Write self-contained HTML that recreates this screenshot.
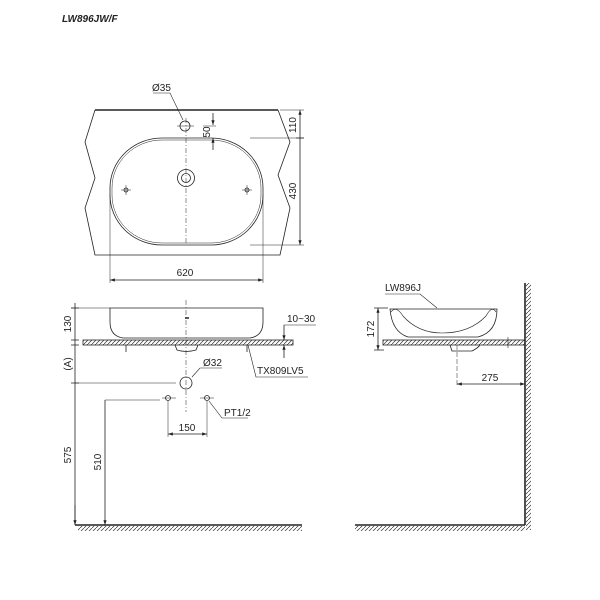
<!DOCTYPE html>
<html><head><style>body{margin:0;background:#fff}svg{display:block}text{font-family:"Liberation Sans",sans-serif;font-size:10px;fill:#222}</style></head><body>
<svg width="600" height="600" viewBox="0 0 600 600" xmlns="http://www.w3.org/2000/svg">
<defs>
<pattern id="h" width="4" height="4" patternUnits="userSpaceOnUse"><path d="M0,4 L4,0" stroke="#333" stroke-width="0.7"/></pattern>
<marker id="a" markerWidth="6" markerHeight="6" refX="6" refY="3" orient="auto-start-reverse"><path d="M0,1 L6,3 L0,5z" fill="#222"/></marker>
</defs>
<text x="62" y="22" style="font-weight:bold;font-style:italic;font-size:10px">LW896JW/F</text>
<g fill="none" stroke="#222" stroke-width="0.8">
<path d="M95,110 L85,142 L95,178 L85,208 L95,255 L280,255 L290,208 L278,175 L290,142 L278,110"/>
<line x1="95" y1="110" x2="278" y2="110" stroke-width="1.6"/>
<rect x="110" y="138" width="153" height="107" rx="52" ry="50"/>
<rect x="112" y="140" width="149" height="103" rx="50" ry="48" stroke-width="0.5"/>
<line x1="186" y1="118" x2="186" y2="245" stroke-dasharray="5,2,1,2" stroke-width="0.5"/>
<circle cx="186" cy="178" r="8.5"/><circle cx="186" cy="178" r="4.5"/>
<circle cx="185" cy="126" r="5"/><line x1="177" y1="126" x2="194" y2="126" stroke-width="0.5"/>
<circle cx="126" cy="190" r="2"/><path d="M121,190h10M126,185v10" stroke-width="0.5"/>
<circle cx="247" cy="190" r="2"/><path d="M242,190h10M247,185v10" stroke-width="0.5"/>
<path d="M153,93 L170,93 L183,120" stroke-width="0.6"/>
<line x1="213" y1="113" x2="213" y2="125" marker-end="url(#a)"/><line x1="213" y1="150" x2="213" y2="138" marker-end="url(#a)"/>
<line x1="203" y1="126" x2="216" y2="126" stroke-width="0.5"/>
<line x1="280" y1="110" x2="304" y2="110" stroke-width="0.5"/><line x1="250" y1="138" x2="304" y2="138" stroke-width="0.5"/><line x1="250" y1="245" x2="304" y2="245" stroke-width="0.5"/>
<line x1="300" y1="110" x2="300" y2="245" marker-start="url(#a)" marker-end="url(#a)"/><line x1="296" y1="138" x2="304" y2="138"/>
<line x1="110" y1="195" x2="110" y2="283" stroke-width="0.5"/><line x1="263" y1="195" x2="263" y2="283" stroke-width="0.5"/>
<line x1="110" y1="280" x2="263" y2="280" marker-start="url(#a)" marker-end="url(#a)"/>
<path d="M110,308 L263,308 L263,322 Q263,336 250,338 L123,338 Q110,336 110,322 Z"/>
<rect x="83" y="340" width="210" height="5" fill="url(#h)"/>
<path d="M175,345 L177,350 Q186,353 196,350 L198,345"/>
<line x1="186" y1="300" x2="186" y2="412" stroke-dasharray="5,2,1,2" stroke-width="0.5"/>
<line x1="185" y1="318" x2="189" y2="318" stroke-width="1.5"/>
<line x1="126" y1="345" x2="126" y2="352"/><line x1="247" y1="345" x2="247" y2="352"/>
<line x1="75" y1="303" x2="75" y2="525"/>
<line x1="71" y1="308" x2="110" y2="308" stroke-width="0.5"/>
<path d="M71,308h8M71,340h8M71,345h8M71,383h8"/>
<line x1="75" y1="383" x2="176" y2="383" stroke-width="0.5"/>
<circle cx="186" cy="383" r="6"/>
<path d="M192,377 L200,368 L222,368" stroke-width="0.6"/>
<line x1="105" y1="400" x2="105" y2="525" marker-end="url(#a)"/><line x1="105" y1="400" x2="160" y2="400" stroke-width="0.5"/>
<line x1="75" y1="505" x2="75" y2="525" marker-end="url(#a)"/>
<circle cx="168" cy="398" r="2.5"/><circle cx="207" cy="398" r="2.5"/>
<path d="M162,398h14M200,398h14" stroke-width="0.5"/>
<line x1="168" y1="401" x2="168" y2="437" stroke-width="0.5"/><line x1="207" y1="401" x2="207" y2="437" stroke-width="0.5"/>
<line x1="168" y1="434" x2="207" y2="434" marker-start="url(#a)" marker-end="url(#a)"/>
<path d="M209,401 L222,418 L248,418" stroke-width="0.6"/>
<line x1="284" y1="325" x2="284" y2="340" marker-end="url(#a)"/><line x1="284" y1="358" x2="284" y2="345" marker-end="url(#a)"/>
<line x1="284" y1="325" x2="316" y2="325" stroke-width="0.5"/>
<path d="M248,345 L256,377 L308,377" stroke-width="0.6"/>
<line x1="75" y1="525" x2="302" y2="525" stroke-width="1.6"/>
<rect x="78" y="526" width="224" height="5" fill="url(#h)" stroke="none"/>
<path d="M390,309 L497,309 Q497,332 478,337 L408,337 Q392,332 390,309 Z"/>
<path d="M391,312 Q396,305 403,316 Q418,333 442,333 Q470,333 486,316 Q492,305 496,312" stroke-width="0.6"/>
<rect x="383" y="340" width="142" height="5" fill="url(#h)"/>
<path d="M450,345 L452,351 L472,351 Q478,348 480,345"/>
<line x1="508" y1="337" x2="508" y2="348" stroke-width="0.6"/>
<line x1="378" y1="308" x2="378" y2="350" marker-start="url(#a)" marker-end="url(#a)"/>
<path d="M374,308h14M374,350h10"/>
<path d="M385,294 L420,294 L437,308" stroke-width="0.6"/>
<line x1="457" y1="345" x2="457" y2="387" stroke-dasharray="5,2" stroke-width="0.5"/>
<line x1="457" y1="384" x2="525" y2="384" marker-start="url(#a)" marker-end="url(#a)"/>
<line x1="525" y1="283" x2="525" y2="525" stroke-width="1.6"/>
<rect x="526" y="283" width="5" height="247" fill="url(#h)" stroke="none"/>
<line x1="355" y1="525" x2="525" y2="525" stroke-width="1.6"/>
<rect x="355" y="526" width="170" height="5" fill="url(#h)" stroke="none"/>
</g>
<text x="152" y="91">Ø35</text>
<text x="185" y="276" text-anchor="middle">620</text>
<text transform="translate(296,125) rotate(-90)" text-anchor="middle">110</text>
<text transform="translate(296,191) rotate(-90)" text-anchor="middle">430</text>
<text transform="translate(210,132) rotate(-90)" text-anchor="middle">50</text>
<text transform="translate(71,324) rotate(-90)" text-anchor="middle">130</text>
<text transform="translate(71,364) rotate(-90)" text-anchor="middle">(A)</text>
<text transform="translate(71,455) rotate(-90)" text-anchor="middle">575</text>
<text transform="translate(101,462) rotate(-90)" text-anchor="middle">510</text>
<text x="203" y="366">Ø32</text>
<text x="224" y="416">PT1/2</text>
<text x="187" y="431" text-anchor="middle">150</text>
<text x="287" y="322">10~30</text>
<text x="257" y="374">TX809LV5</text>
<text x="385" y="291">LW896J</text>
<text transform="translate(374,329) rotate(-90)" text-anchor="middle">172</text>
<text x="490" y="381" text-anchor="middle">275</text>
</svg>
</body></html>
